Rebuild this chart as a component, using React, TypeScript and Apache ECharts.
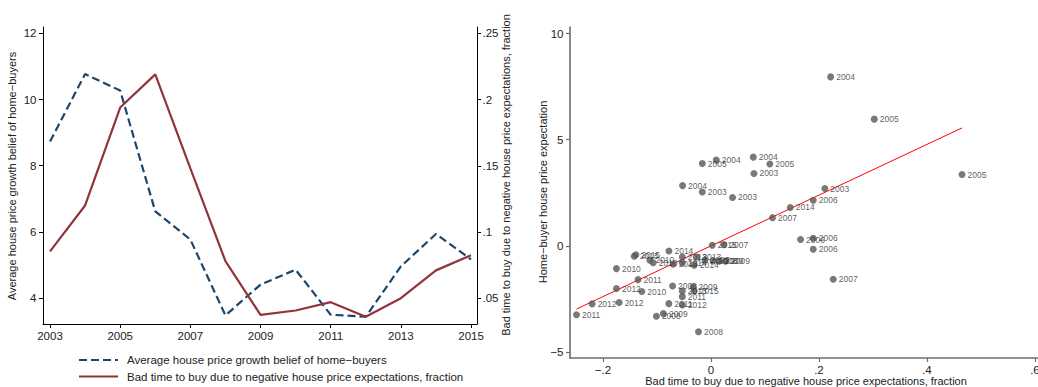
import React, { useEffect, useRef } from "react";
import * as echarts from "echarts";

// Annual series (left panel)
const years = [2003, 2004, 2005, 2006, 2007, 2008, 2009, 2010, 2011, 2012, 2013, 2014, 2015];
const beliefAvg = [8.73, 10.77, 10.27, 6.62, 5.77, 3.48, 4.41, 4.86, 3.5, 3.44, 4.96, 5.94, 5.17];
const badTimeFrac = [0.0854, 0.12, 0.194, 0.219, 0.148, 0.078, 0.0374, 0.0407, 0.047, 0.036, 0.05, 0.071, 0.0824];

const yearTicks = [2003, 2005, 2007, 2009, 2011, 2013, 2015];
const beliefTicks = [4, 6, 8, 10, 12];
const fracTicks = [0.05, 0.1, 0.15, 0.2, 0.25];

const beliefName = "Average house price growth belief of home\u2212buyers";
const badTimeName = "Bad time to buy due to negative house price expectations, fraction";

// Region-year observations (right panel)
const regionBadTime = [
  0.2217, 0.3025, 0.0099, -0.016, 0.0784, 0.109, 0.0796, 0.465, -0.0525, -0.016,
  0.04, 0.211, 0.1895, 0.147, 0.114, 0.166, 0.1895, 0.1895, 0.2265, 0.0025,
  0.024, -0.0778, -0.139, -0.142, -0.113, -0.107, -0.053, -0.026, -0.07, -0.053,
  -0.031, -0.011, 0.004, 0.015, 0.027, -0.175, -0.135, -0.175, -0.128, -0.071,
  -0.033, -0.053, -0.031, -0.053, -0.22, -0.17, -0.078, -0.053, -0.088, -0.101,
  -0.249, -0.023,
];
const regionExpectation = [
  7.96, 5.97, 4.04, 3.88, 4.18, 3.86, 3.41, 3.36, 2.84, 2.54,
  2.28, 2.7, 2.15, 1.81, 1.33, 0.3, 0.36, -0.16, -1.57, 0.03,
  0.06, -0.24, -0.42, -0.49, -0.68, -0.79, -0.52, -0.52, -0.86, -0.79,
  -0.91, -0.67, -0.71, -0.72, -0.72, -1.07, -1.59, -2.01, -2.15, -1.89,
  -1.93, -2.12, -2.12, -2.39, -2.73, -2.67, -2.72, -2.78, -3.19, -3.31,
  -3.24, -4.04,
];
const regionYear = [
  2004, 2005, 2004, 2005, 2004, 2005, 2003, 2005, 2004, 2003,
  2003, 2003, 2006, 2014, 2007, 2006, 2006, 2006, 2007, 2015,
  2007, 2014, 2015, 2015, 2010, 2010, 2013, 2013, 2013, 2014,
  2014, 2007, 2008, 2009, 2009, 2010, 2011, 2012, 2010, 2008,
  2009, 2013, 2015, 2011, 2012, 2012, 2011, 2012, 2009, 2008,
  2011, 2008,
];

const scatterXTicks = [-0.2, 0, 0.2, 0.4, 0.6];
const scatterYTicks = [-5, 0, 5, 10];

// Linear fit of expectation on bad-time fraction
const fitSlope = 11.95;
const fitIntercept = 0.0;

const FONT = "'Liberation Sans', Arial, Helvetica, sans-serif";
const BLUE = "#1a476f";
const RED = "#90353b";
const TEXT = "#222222";
const GREY_AXIS = "#6e6e6e";

const stripZero = (v: number) => {
  if (v === 0) return "0";
  const s = String(Math.abs(v)).replace(/^0/, "");
  return (v < 0 ? "\u2212" : "") + s;
};

export default function App() {
  const ref = useRef<HTMLDivElement>(null);

  useEffect(() => {
    if (!ref.current) return;
    const chart = echarts.init(ref.current, null, { renderer: "svg" });

    const fitX0 = Math.min(...regionBadTime);
    const fitX1 = Math.max(...regionBadTime);
    const fitLine = [
      [fitX0, fitIntercept + fitSlope * fitX0],
      [fitX1, fitIntercept + fitSlope * fitX1],
    ];

    const scatterData = regionBadTime.map((x, i) => ({
      value: [x, regionExpectation[i]],
      name: String(regionYear[i]),
    }));

    const tickLabel = { fontFamily: FONT, fontSize: 11.5, color: TEXT };
    const blackAxisLine = { show: true, onZero: false, lineStyle: { color: "#000", width: 1 } };
    const blackTick = { show: true, length: 4, lineStyle: { color: "#000", width: 1 } };
    const greyAxisLine = { show: true, onZero: false, lineStyle: { color: GREY_AXIS, width: 1.6 } };
    const greyTick = { show: true, length: 4, lineStyle: { color: GREY_AXIS, width: 1.2 } };

    const rotatedTitle = (text: string, x: number, y: number) => ({
      type: "text",
      x,
      y,
      rotation: Math.PI / 2,
      style: { text, fontFamily: FONT, fontSize: 11, fill: TEXT, align: "center", verticalAlign: "middle" },
    });

    // Legend keys for the left panel
    const legendRow = (y: number, text: string, color: string, dash: number[] | null) => ({
      type: "group",
      children: [
        {
          type: "line",
          shape: { x1: 79, y1: y, x2: 118, y2: y },
          style: { stroke: color, lineWidth: 2.2, lineDash: dash || undefined },
        },
        {
          type: "text",
          x: 127,
          y,
          style: { text, fontFamily: FONT, fontSize: 11.5, fill: TEXT, align: "left", verticalAlign: "middle" },
        },
      ],
    });

    chart.setOption({
      animation: false,
      backgroundColor: "#fff",
      textStyle: { fontFamily: FONT },
      grid: [
        { left: 43, top: 27, width: 434, height: 297, containLabel: false, outerBoundsMode: "none" },
        { left: 570, top: 27, width: 470, height: 331, containLabel: false, outerBoundsMode: "none" },
      ],
      xAxis: [
        {
          gridIndex: 0,
          type: "value",
          min: 2002.8,
          max: 2015.17,
          axisLine: blackAxisLine,
          axisTick: { ...blackTick, customValues: yearTicks },
          axisLabel: { ...tickLabel, margin: 5.5, customValues: yearTicks, formatter: (v: number) => String(v) },
          splitLine: { show: false },
        },
        {
          gridIndex: 1,
          type: "value",
          min: -0.261,
          max: 0.6094,
          axisLine: greyAxisLine,
          axisTick: { ...greyTick, customValues: scatterXTicks },
          axisLabel: { ...tickLabel, margin: 5.5, customValues: scatterXTicks, formatter: stripZero },
          splitLine: { show: false },
        },
      ],
      yAxis: [
        {
          gridIndex: 0,
          type: "value",
          position: "left",
          min: 3.22,
          max: 12.19,
          axisLine: blackAxisLine,
          axisTick: { ...blackTick, customValues: beliefTicks },
          axisLabel: { ...tickLabel, margin: 6.5, customValues: beliefTicks },
          splitLine: { show: false },
        },
        {
          gridIndex: 0,
          type: "value",
          position: "right",
          min: 0.0305,
          max: 0.2548,
          axisLine: blackAxisLine,
          axisTick: { ...blackTick, customValues: fracTicks },
          axisLabel: { ...tickLabel, margin: 5.5, customValues: fracTicks, formatter: stripZero },
          splitLine: { show: false },
        },
        {
          gridIndex: 1,
          type: "value",
          position: "left",
          min: -5.28,
          max: 10.31,
          axisLine: greyAxisLine,
          axisTick: { ...greyTick, customValues: scatterYTicks },
          axisLabel: { ...tickLabel, margin: 6.5, customValues: scatterYTicks, formatter: stripZero },
          splitLine: { show: false },
        },
      ],
      series: [
        {
          name: beliefName,
          type: "line",
          xAxisIndex: 0,
          yAxisIndex: 0,
          data: years.map((y, i) => [y, beliefAvg[i]]),
          symbol: "none",
          lineStyle: { color: BLUE, width: 2.2, type: [8, 4] },
          itemStyle: { color: BLUE },
        },
        {
          name: badTimeName,
          type: "line",
          xAxisIndex: 0,
          yAxisIndex: 1,
          data: years.map((y, i) => [y, badTimeFrac[i]]),
          symbol: "none",
          lineStyle: { color: RED, width: 2.2 },
          itemStyle: { color: RED },
        },
        {
          name: "fit",
          type: "line",
          xAxisIndex: 1,
          yAxisIndex: 2,
          data: fitLine,
          symbol: "none",
          lineStyle: { color: "#ff0000", width: 1 },
          z: 1,
        },
        {
          name: "regions",
          type: "scatter",
          xAxisIndex: 1,
          yAxisIndex: 2,
          data: scatterData,
          symbol: "circle",
          symbolSize: 7,
          itemStyle: { color: "#575757" },
          label: {
            show: true,
            position: "right",
            distance: 2,
            formatter: (p: any) => p.name,
            fontFamily: FONT,
            fontSize: 8.5,
            color: "#333",
          },
          z: 3,
        },
      ],
      graphic: [
        rotatedTitle(beliefName, 12, 176),
        rotatedTitle(badTimeName, 506, 175),
        rotatedTitle("Home\u2212buyer house price expectation", 543, 192),
        {
          type: "text",
          x: 806,
          y: 381,
          style: {
            text: badTimeName,
            fontFamily: FONT,
            fontSize: 11,
            fill: TEXT,
            align: "center",
            verticalAlign: "middle",
          },
        },
        legendRow(360, beliefName, BLUE, [8, 4]),
        legendRow(376.5, badTimeName, RED, null),
      ],
    });

    return () => chart.dispose();
  }, []);

  return (
    <div
      ref={ref}
      style={{ position: "fixed", left: 0, top: 0, width: 1038, height: 387, background: "#fff" }}
    />
  );
}
